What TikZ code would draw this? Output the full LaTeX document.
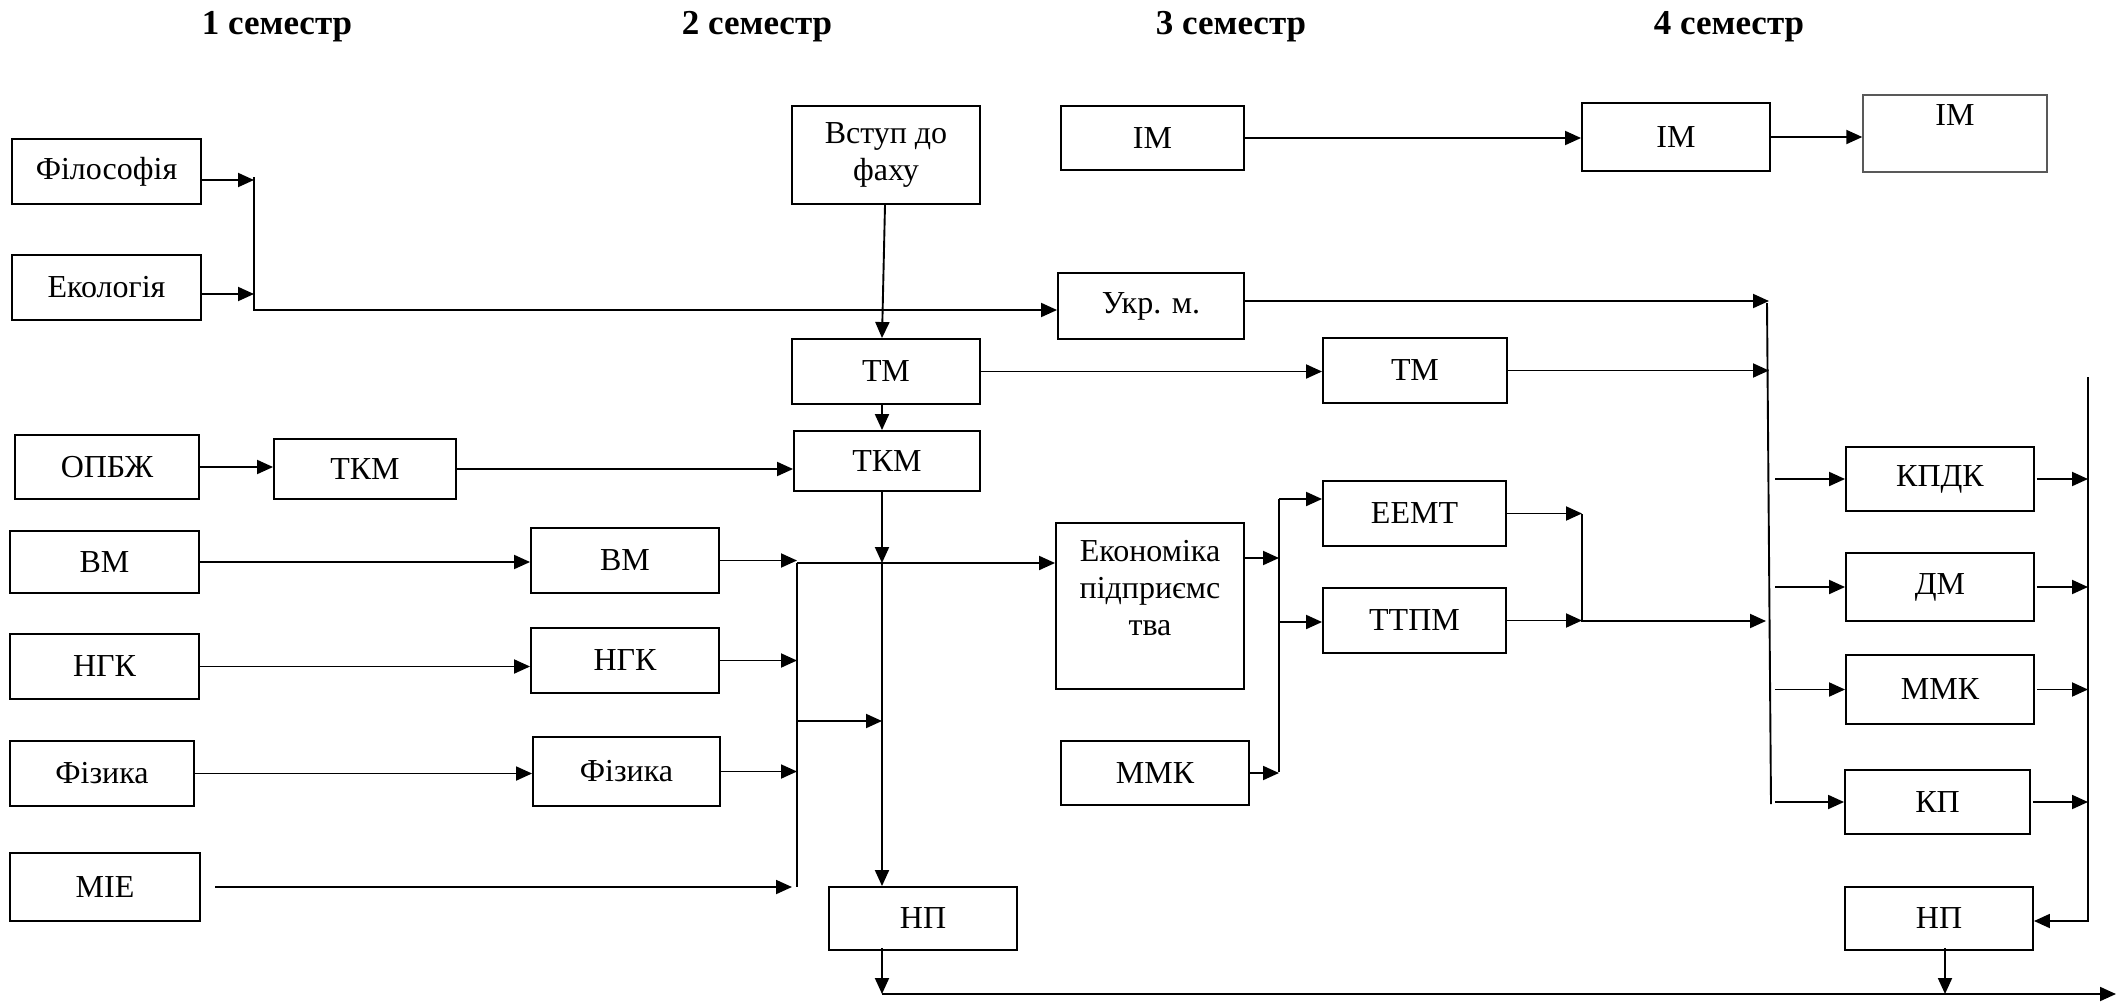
\documentclass[tikz,border=0pt]{standalone}
\usepackage{fontspec}
\setmainfont{Liberation Serif}
\usetikzlibrary{arrows.meta}
\begin{document}
\begin{tikzpicture}[x=1pt,y=-1pt,
  box/.style={draw, line width=1.9pt, inner sep=0pt, align=center, font=\fontsize{32}{37}\selectfont},
  arr/.style={line width=1.9pt, -{Triangle[length=16pt,width=14pt]}},
  ln/.style={line width=1.9pt},
  hdr/.style={font=\fontsize{35}{40}\selectfont\bfseries}]
\useasboundingbox (0,0) rectangle (2123,1002);
% headers
\node[hdr] (h1s) at (277,27) {1 семестр};
\node[hdr] (h2s) at (757,27) {2 семестр};
\node[hdr] (h3s) at (1231,27) {3 семестр};
\node[hdr] (h4s) at (1729,27) {4 семестр};
% semester 1
\node[box, minimum width=189, minimum height=65] (fil) at (106.5,171.5) {Філософія};
\node[box, minimum width=189, minimum height=65] (eko) at (106.5,287.5) {Екологія};
\node[box, minimum width=184, minimum height=64] (opbzh) at (107,467) {ОПБЖ};
\node[box, minimum width=182, minimum height=60] (tkm1) at (365,469) {ТКМ};
\node[box, minimum width=189, minimum height=62] (vm1) at (104.5,562) {ВМ};
\node[box, minimum width=189, minimum height=65] (ngk1) at (104.5,666.5) {НГК};
\node[box, minimum width=184, minimum height=65] (fiz1) at (102,773.5) {Фізика};
\node[box, minimum width=190, minimum height=68] (mie) at (105,887) {МІЕ};
% semester 2
\node[box, minimum width=188, minimum height=98] (vstup) at (886,155) {Вступ до\\фаху};
\node[box, minimum width=188, minimum height=65] (tm2) at (886,371.5) {ТМ};
\node[box, minimum width=186, minimum height=60] (tkm2) at (887,461) {ТКМ};
\node[box, minimum width=188, minimum height=65] (vm2) at (625,560.5) {ВМ};
\node[box, minimum width=188, minimum height=65] (ngk2) at (625,660.5) {НГК};
\node[box, minimum width=187, minimum height=69] (fiz2) at (626.5,771.5) {Фізика};
\node[box, minimum width=188, minimum height=63] (np2) at (923,918.5) {НП};
% semester 3
\node[box, minimum width=183, minimum height=64] (im3) at (1152.5,138) {ІМ};
\node[box, minimum width=186, minimum height=66] (ukr) at (1151,306) {Укр. м.};
\node[box, minimum width=184, minimum height=65] (tm3) at (1415,370.5) {ТМ};
\node[box, minimum width=188, minimum height=166] (econ) at (1150,606) {Економіка\\підприємс\\тва\\ \mbox{}};
\node[box, minimum width=188, minimum height=64] (mmk3) at (1155,773) {ММК};
\node[box, minimum width=183, minimum height=65] (eemt) at (1414.5,513.5) {ЕЕМТ};
\node[box, minimum width=183, minimum height=65] (ttpm) at (1414.5,620.5) {ТТПМ};
% semester 4
\node[box, minimum width=188, minimum height=68] (im4a) at (1676,137) {ІМ};
\node[box, draw=black!65, line width=1.4pt, minimum width=184, minimum height=77] (im4b) at (1955,133.5) {ІМ\\ \mbox{}};
\node[box, minimum width=188, minimum height=64] (kpdk) at (1940,479) {КПДК};
\node[box, minimum width=188, minimum height=68] (dm) at (1940,587) {ДМ};
\node[box, minimum width=188, minimum height=69] (mmk4) at (1940,689.5) {ММК};
\node[box, minimum width=185, minimum height=64] (kp) at (1937.5,802) {КП};
\node[box, minimum width=188, minimum height=63] (np4) at (1939,918.5) {НП};
% junction coordinates
\coordinate (j1) at (254,180);
\coordinate (j2) at (254,294);
\coordinate (j3) at (254,310);
\coordinate (r1a) at (1769,301);
\coordinate (r1b) at (1769,373);
\coordinate (c1) at (882,563);
\coordinate (lb1) at (797,563);
\coordinate (lb2) at (797,887);
\coordinate (lb3) at (797,721);
\coordinate (mietip) at (792,887);
\coordinate (mies) at (215,887);
\coordinate (eb1) at (1279,499);
\coordinate (eb2) at (1279,772);
\coordinate (eb3) at (1279,558);
\coordinate (eb4) at (1279,622);
\coordinate (fb1) at (1582,514);
\coordinate (fb2) at (1582,621);
\coordinate (gtip) at (1766,621);
\coordinate (g1) at (1767,303);
\coordinate (g2) at (1771,804);
\coordinate (hb1) at (2088,377);
\coordinate (hb2) at (2088,921);
\coordinate (bot1) at (882,994);
\coordinate (bot2) at (2116,994);
% connectors semester 1
\draw[arr] (fil.east |- j1) -- (j1);
\draw[arr] (eko.east |- j2) -- (j2);
\draw[arr] ([yshift=3pt]j1) -- (j3) -- (ukr.west |- j3);
\draw[arr] (opbzh.east) -- (opbzh.east -| tkm1.west);
\draw[arr] (tkm1.east) -- (tkm1.east -| tkm2.west);
\draw[arr] (vm1.east) -- (vm1.east -| vm2.west);
\draw[arr] (ngk1.east) -- (ngk1.east -| ngk2.west);
\draw[arr] (fiz1.east) -- (fiz1.east -| fiz2.west);
\draw[arr] (mies) -- (mietip);
% semester 2
\draw[arr] ([xshift=-1pt]vstup.south) -- ([xshift=-4pt]tm2.north);
\draw[arr] ([xshift=-4pt]tm2.south) -- ([xshift=-5pt]tkm2.north);
\draw[arr] (c1 |- tkm2.south) -- (c1);
\draw[arr] (c1) -- (c1 |- np2.north);
\draw[arr] (vm2.east) -- (vm2.east -| lb1);
\draw[arr] (ngk2.east) -- (ngk2.east -| lb1);
\draw[arr] (fiz2.east) -- (fiz2.east -| lb1);
\draw[ln] (lb1) -- (lb2);
\draw[arr] (lb3) -- (lb3 -| c1);
\draw[arr] (lb1) -- (lb1 -| econ.west);
\draw[arr] (tm2.east) -- (tm2.east -| tm3.west);
% semester 3
\draw[arr] (im3.east) -- (im3.east -| im4a.west);
\draw[arr] (ukr.east |- r1a) -- (r1a);
\draw[arr] (tm3.east) -- (tm3.east -| r1b);
\draw[arr] (econ.east |- eb3) -- (eb3);
\draw[ln] (eb1) -- (eb2);
\draw[arr] (eb1) -- (eb1 -| eemt.west);
\draw[arr] (eb4) -- (eb4 -| ttpm.west);
\draw[arr] (mmk3.east) -- (mmk3.east -| eb2);
\draw[arr] (eemt.east) -- (eemt.east -| fb1);
\draw[arr] (ttpm.east) -- (ttpm.east -| fb2);
\draw[arr] (fb1) -- (fb2) -- (gtip);
% semester 4
\draw[arr] (im4a.east) -- (im4a.east -| im4b.west);
\draw[ln] (g1) -- (g2);
\draw[arr] ([xshift=4pt]kpdk.west -| g2) -- (kpdk.west);
\draw[arr] ([xshift=4pt]dm.west -| g2) -- (dm.west);
\draw[arr] ([xshift=4pt]mmk4.west -| g2) -- (mmk4.west);
\draw[arr] ([xshift=4pt]kp.west -| g2) -- (kp.west);
\draw[arr] ([xshift=2pt]kpdk.east) -- (kpdk.east -| hb1);
\draw[arr] ([xshift=2pt]dm.east) -- (dm.east -| hb1);
\draw[arr] ([xshift=2pt]mmk4.east) -- (mmk4.east -| hb1);
\draw[arr] ([xshift=2pt]kp.east) -- (kp.east -| hb1);
\draw[arr] (hb1) -- (hb2) -- (hb2 -| np4.east);
% bottom
\draw[arr] ([yshift=3pt]np2.south -| bot1) -- (bot1);
\draw[arr] ([yshift=3pt,xshift=6pt]np4.south) -- ([xshift=6pt]np4.south |- bot1);
\draw[arr] (bot1) -- (bot2);
\end{tikzpicture}
\end{document}
